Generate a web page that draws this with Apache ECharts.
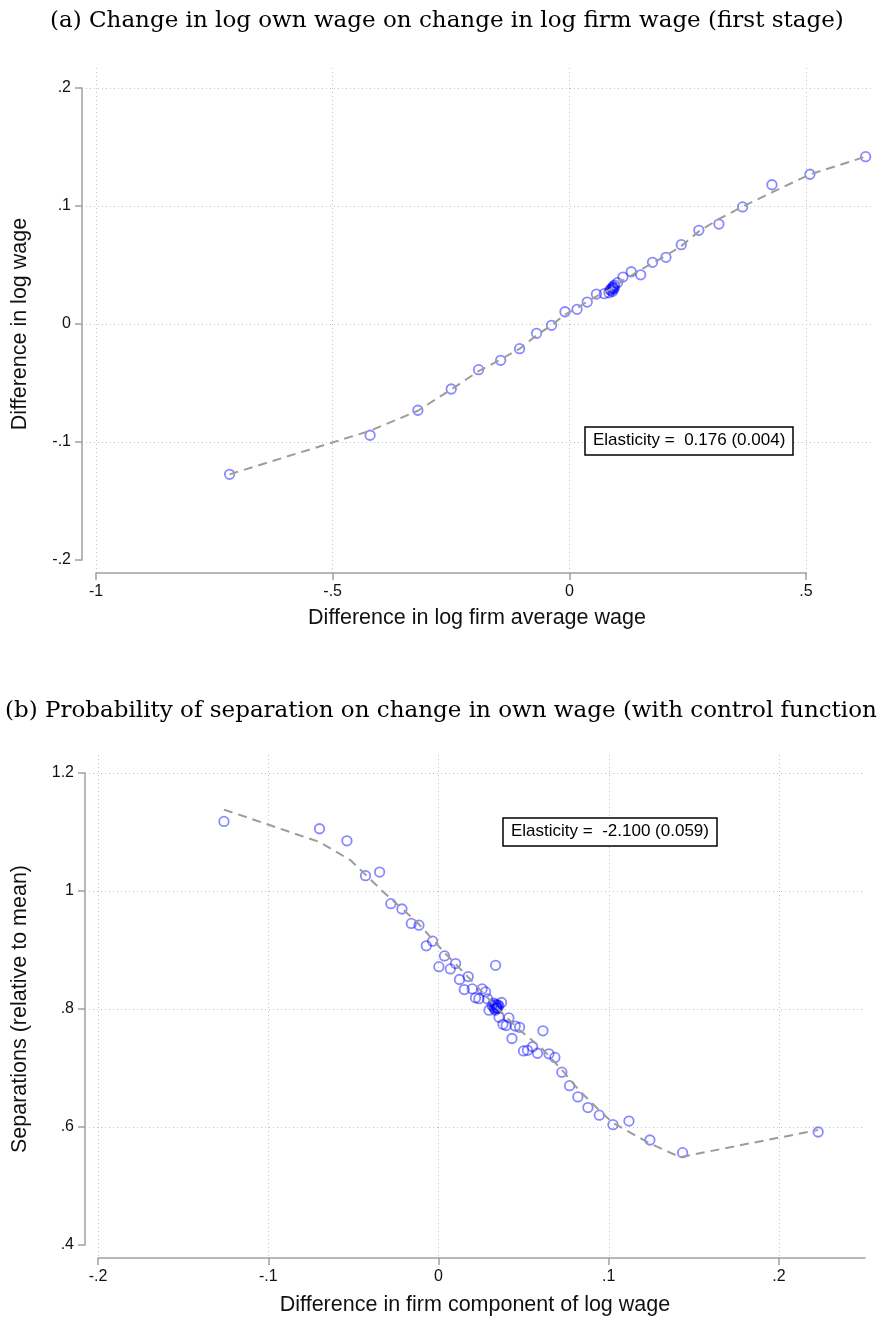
<!DOCTYPE html>
<html>
<head>
<meta charset="utf-8">
<script src="https://cdn.jsdelivr.net/npm/echarts@6/dist/echarts.min.js"></script>
<style>
  html, body { margin: 0; padding: 0; background: #fff; overflow: hidden; }
  #chart { width: 878px; height: 1317px; }
</style>
</head>
<body>
<div id="chart"></div>
<script>
// ---- Panel (a): first stage, binned means and fitted curve ----
const aPointsX = [-0.718, -0.421, -0.320, -0.2495, -0.1917, -0.145, -0.105, -0.069, -0.0374, -0.009,
  0.0165, 0.038, 0.0575, 0.074, 0.084, 0.088, 0.090, 0.091, 0.093, 0.094, 0.096, 0.086, 0.092, 0.095,
  0.102, 0.1135, 0.131, 0.151, 0.176, 0.2044, 0.2368, 0.274, 0.3164, 0.3664, 0.4285, 0.5088, 0.6265];
const aPointsY = [-0.1274, -0.0943, -0.0731, -0.0551, -0.0387, -0.0308, -0.0209, -0.0079, -0.0011, 0.0104,
  0.0124, 0.0186, 0.0254, 0.0257, 0.0265, 0.0285, 0.0300, 0.0275, 0.0320, 0.0295, 0.0330, 0.0290, 0.0310, 0.0305,
  0.0350, 0.0398, 0.0443, 0.0417, 0.0523, 0.0565, 0.0672, 0.0794, 0.0847, 0.0992, 0.1180, 0.1269, 0.1418];
const aFitX = [-0.718, -0.421, -0.320, -0.2495, -0.1917, -0.145, -0.105, -0.069, -0.0374, -0.009, 0.0165,
  0.038, 0.0575, 0.074, 0.090, 0.102, 0.1135, 0.131, 0.151, 0.176, 0.2044, 0.2368, 0.274, 0.3164,
  0.3664, 0.4285, 0.5088, 0.6265];
const aFitY = [-0.1274, -0.0905, -0.0735, -0.0555, -0.0400, -0.0300, -0.0210, -0.0095, -0.0010, 0.0080, 0.0135,
  0.0190, 0.0235, 0.0268, 0.0300, 0.0335, 0.0370, 0.0410, 0.0460, 0.0515, 0.0580, 0.0660, 0.0785, 0.0890,
  0.0995, 0.1115, 0.1268, 0.1418];
const aXTicks = [-1, -0.5, 0, 0.5];
const aYTicks = [-0.2, -0.1, 0, 0.1, 0.2];
const aElasticity = 'Elasticity =  0.176 (0.004)';

// ---- Panel (b): separations on own wage change ----
const bPointsX = [-0.1264, -0.0703, -0.0542, -0.0433, -0.035, -0.0284, -0.0219, -0.0164, -0.0119, -0.0039,
  -0.0076, 0.0031, 0.0096, -0.0002, 0.0065, 0.0331, 0.017, 0.0119, 0.0147, 0.0194, 0.0252, 0.0272,
  0.0213, 0.0233, 0.0284, 0.0366, 0.0292, 0.0351, 0.0409, 0.0374, 0.0393, 0.0446, 0.0472, 0.0609,
  0.0427, 0.0548, 0.0495, 0.0518, 0.0577, 0.0644, 0.0679, 0.072, 0.0765, 0.0814, 0.0873, 0.094,
  0.102, 0.1114, 0.1237, 0.1429, 0.2225,
  0.031, 0.032, 0.033, 0.034, 0.033, 0.035, 0.032, 0.034, 0.0335, 0.0325, 0.0345, 0.0335];
const bPointsY = [1.118, 1.1055, 1.085, 1.026, 1.032, 0.9785, 0.9695, 0.945, 0.942, 0.915,
  0.907, 0.890, 0.877, 0.8717, 0.868, 0.874, 0.855, 0.850, 0.833, 0.834, 0.834, 0.829,
  0.819, 0.8175, 0.817, 0.811, 0.798, 0.786, 0.785, 0.774, 0.772, 0.771, 0.769, 0.763,
  0.750, 0.736, 0.729, 0.730, 0.725, 0.724, 0.718, 0.693, 0.670, 0.651, 0.633, 0.620,
  0.604, 0.610, 0.578, 0.5564, 0.5915,
  0.806, 0.803, 0.808, 0.801, 0.798, 0.805, 0.810, 0.803, 0.806, 0.800, 0.807, 0.802];
const bFitX = [-0.1264, -0.0703, -0.052, -0.0327, -0.013, 0.003, 0.020, 0.0335, 0.047, 0.060, 0.072,
  0.0815, 0.094, 0.102, 0.1237, 0.1415, 0.2225];
const bFitY = [1.138, 1.083, 1.052, 0.998, 0.947, 0.896, 0.845, 0.803, 0.765, 0.734, 0.697,
  0.664, 0.628, 0.607, 0.572, 0.549, 0.595];
const bXTicks = [-0.2, -0.1, 0, 0.1, 0.2];
const bYTicks = [0.4, 0.6, 0.8, 1.0, 1.2];
const bElasticity = 'Elasticity =  -2.100 (0.059)';

const titleA = '(a) Change in log own wage on change in log firm wage (first stage)';
const titleB = '(b) Probability of separation on change in own wage (with control function)';
const aXName = 'Difference in log firm average wage';
const aYName = 'Difference in log wage';
const bXName = 'Difference in firm component of log wage';
const bYName = 'Separations (relative to mean)';

// ---- styling ----
const SANS = 'Liberation Sans, Arial, sans-serif';
const SERIF = 'DejaVu Serif, serif';
const AXIS_GRAY = '#a0a0a0';
const GRID_STYLE = { color: '#c4c4c4', width: 1, type: [1, 3] };
const MARKER_STROKE = 'rgba(0,0,255,0.58)';
const FIT_STYLE = { color: '#9c9c9c', width: 2, type: [9, 6] };

// Stata-style number labels: ".2", "-.5", "0", "1.2"
function stataFmt(v) {
  const r = Math.round(v * 1000) / 1000;
  if (r === 0) return '0';
  return String(r).replace(/^(-?)0\./, '$1.');
}
const step = t => Math.round((t[1] - t[0]) * 1000) / 1000;
const zip = (xs, ys) => xs.map((x, i) => [x, ys[i]]);

const labelStyle = { fontFamily: SANS, fontSize: 16, color: '#111', formatter: stataFmt, margin: 11 };
const nameStyle = { fontFamily: SANS, fontSize: 21.5, color: '#111' };
const axisLineStyle = { show: true, onZero: false, lineStyle: { color: AXIS_GRAY, width: 1.5 } };
const axisTickStyle = { show: true, length: 7, lineStyle: { color: AXIS_GRAY, width: 1.5 } };
const noLine = { show: false, onZero: false };
const hiddenAxis = (gridIndex) => ({ type: 'value', gridIndex, show: false, min: 0, max: 1 });

// data-space x extents of the plot regions (slightly wider than the ticked range)
const aXRange = [-1.03, 0.64];
const bXRange = [-0.208, 0.25];

const serifTitle = { fontFamily: SERIF, fontSize: 23, fontWeight: 'normal', color: '#000' };
const boxText = { fontFamily: SANS, fontSize: 17, fontWeight: 'normal', color: '#000' };
const markerStyle = { color: 'rgba(0,0,0,0)', borderColor: MARKER_STROKE, borderWidth: 1.8 };

const option = {
  animation: false,
  backgroundColor: '#fff',
  title: [
    { text: titleA, left: 50, top: 10, padding: 0, textStyle: serifTitle },
    { text: titleB, left: 5, top: 700, padding: 0, textStyle: serifTitle },
    { text: aElasticity, left: 585, top: 427, padding: [5, 8, 6, 8],
      borderColor: '#000', borderWidth: 1.5, backgroundColor: '#fff', textStyle: boxText },
    { text: bElasticity, left: 503, top: 818, padding: [5, 8, 6, 8],
      borderColor: '#000', borderWidth: 1.5, backgroundColor: '#fff', textStyle: boxText }
  ],
  grid: [
    { left: 82, top: 88, width: 790, height: 472 },   // (a) data region + y axis
    { left: 96, top: 68, width: 710, height: 505 },   // (a) x axis ticks + vertical grid
    { left: 85, top: 773, width: 780, height: 472 },  // (b) data region + y axis
    { left: 98, top: 755, width: 767, height: 503 },  // (b) x axis line
    { left: 98, top: 755, width: 681, height: 503 }   // (b) x axis ticks + vertical grid
  ],
  xAxis: [
    { type: 'value', gridIndex: 0, min: aXRange[0], max: aXRange[1],
      axisLine: noLine, axisTick: { show: false }, axisLabel: { show: false }, splitLine: { show: false },
      name: aXName, nameLocation: 'middle', nameGap: 47, nameTextStyle: nameStyle },
    { type: 'value', gridIndex: 1, min: aXTicks[0], max: aXTicks[aXTicks.length - 1], interval: step(aXTicks),
      axisLine: axisLineStyle, axisTick: axisTickStyle, axisLabel: labelStyle,
      splitLine: { show: true, lineStyle: GRID_STYLE } },
    { type: 'value', gridIndex: 2, min: bXRange[0], max: bXRange[1],
      axisLine: noLine, axisTick: { show: false }, axisLabel: { show: false }, splitLine: { show: false },
      name: bXName, nameLocation: 'middle', nameGap: 49, nameTextStyle: nameStyle },
    { type: 'value', gridIndex: 3, min: bXTicks[0], max: bXRange[1],
      axisLine: axisLineStyle, axisTick: { show: false }, axisLabel: { show: false }, splitLine: { show: false } },
    { type: 'value', gridIndex: 4, min: bXTicks[0], max: bXTicks[bXTicks.length - 1], interval: step(bXTicks),
      axisLine: noLine, axisTick: axisTickStyle, axisLabel: labelStyle,
      splitLine: { show: true, lineStyle: GRID_STYLE } }
  ],
  yAxis: [
    { type: 'value', gridIndex: 0, min: aYTicks[0], max: aYTicks[aYTicks.length - 1], interval: step(aYTicks),
      axisLine: axisLineStyle, axisTick: axisTickStyle, axisLabel: labelStyle,
      splitLine: { show: true, showMinLine: false, lineStyle: GRID_STYLE },
      name: aYName, nameLocation: 'middle', nameGap: 51, nameTextStyle: nameStyle },
    hiddenAxis(1),
    { type: 'value', gridIndex: 2, min: bYTicks[0], max: bYTicks[bYTicks.length - 1], interval: step(bYTicks),
      axisLine: axisLineStyle, axisTick: axisTickStyle, axisLabel: labelStyle,
      splitLine: { show: true, showMinLine: false, lineStyle: GRID_STYLE },
      name: bYName, nameLocation: 'middle', nameGap: 54, nameTextStyle: nameStyle },
    hiddenAxis(3),
    hiddenAxis(4)
  ],
  series: [
    { type: 'scatter', xAxisIndex: 0, yAxisIndex: 0, data: zip(aPointsX, aPointsY),
      symbol: 'circle', symbolSize: 9.5, itemStyle: markerStyle, z: 2 },
    { type: 'line', xAxisIndex: 0, yAxisIndex: 0, data: zip(aFitX, aFitY),
      showSymbol: false, symbol: 'none', lineStyle: FIT_STYLE, z: 3 },
    { type: 'scatter', xAxisIndex: 2, yAxisIndex: 2, data: zip(bPointsX, bPointsY),
      symbol: 'circle', symbolSize: 9.5, itemStyle: markerStyle, z: 2 },
    { type: 'line', xAxisIndex: 2, yAxisIndex: 2, data: zip(bFitX, bFitY),
      showSymbol: false, symbol: 'none', lineStyle: FIT_STYLE, z: 3 }
  ]
};

const chart = echarts.init(document.getElementById('chart'), null, { renderer: 'canvas' });
chart.setOption(option);
</script>
</body>
</html>
